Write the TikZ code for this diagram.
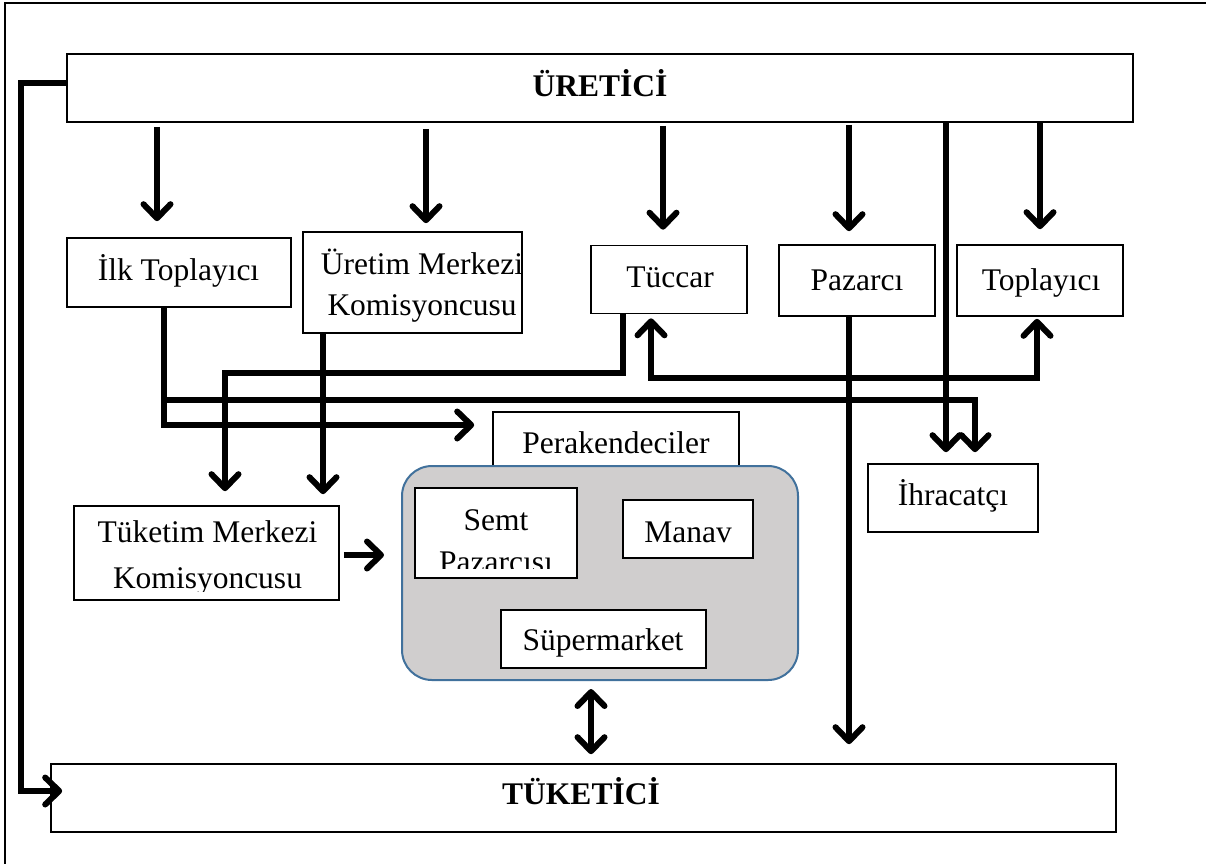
\documentclass[tikz,border=0pt]{standalone}
\usepackage{fontspec}
\setmainfont{Liberation Serif}
\usetikzlibrary{arrows.meta}
\definecolor{greyfill}{RGB}{208,206,206}
\definecolor{blueline}{RGB}{65,113,156}
\begin{document}
\begin{tikzpicture}[x=1pt,y=-1pt,
  box/.style={draw, line width=1.6pt, fill=white, inner sep=0pt},
  txt/.style={font=\fontsize{31.5}{36}\selectfont, inner sep=0pt, anchor=base},
  txtb/.style={font=\fontsize{31.5}{36}\selectfont\bfseries, inner sep=0pt, anchor=base},
  tipb/.tip={Straight Barb[length=14pt,width=27pt,round,line width=6pt]},
  arr/.style={line width=5.5pt, -tipb},
  darr/.style={line width=5.5pt, tipb-tipb}]
\useasboundingbox (0,0) rectangle (1206,863);
% outer frame
\draw[line width=1.6pt] (5,870) -- (5,3) -- (1212,3);

% boxes
\node[box, minimum width=1066pt, minimum height=68pt] (ure) at (600,88) {};
\node[txtb] (ureT) at (600,96) {ÜRETİCİ};
\node[box, minimum width=1065pt, minimum height=68pt] (tuk) at (583.5,798) {};
\node[txtb] (tukT) at (581,804) {TÜKETİCİ};

\node[box, minimum width=224pt, minimum height=69pt] (ilk) at (179,272.5) {};
\node[txt] (ilkT) at (178.5,280) {İlk Toplayıcı};

\node[box, minimum width=219pt, minimum height=101pt] (urm) at (412.5,282.5) {};
\node[txt] (urmT1) at (422,274) {Üretim Merkezi};
\node[txt] (urmT2) at (422,315) {Komisyoncusu};

\node[box, minimum width=156pt, minimum height=68pt] (tuc) at (669,279.5) {};
\node[txt] (tucT) at (670,287) {Tüccar};

\node[box, minimum width=156pt, minimum height=71pt] (paz) at (857,280.5) {};
\node[txt] (pazT) at (857,290) {Pazarcı};

\node[box, minimum width=166pt, minimum height=71pt] (top) at (1040,280.5) {};
\node[txt] (topT) at (1041,290) {Toplayıcı};

\node[box, minimum width=246pt, minimum height=60pt] (perak) at (616,442) {};
\node[txt] (perakT) at (616,453) {Perakendeciler};

\node[draw=blueline, fill=greyfill, line width=2pt, rounded corners=30pt,
      minimum width=396pt, minimum height=214pt, inner sep=0pt] (ret) at (600,573) {};

\node[box, minimum width=162pt, minimum height=90pt] (semt) at (496,533) {};
\begin{scope}
  \clip (415,488) rectangle (577,568);
  \node[txt] (semtT1) at (496,530) {Semt};
  \node[txt] (semtT2) at (496,572) {Pazarcısı};
\end{scope}

\node[box, minimum width=130pt, minimum height=58pt] (manav) at (688,529) {};
\node[txt] (manavT) at (688,542) {Manav};

\node[box, minimum width=205pt, minimum height=58pt] (super) at (603.5,639) {};
\node[txt] (superT) at (603,650) {Süpermarket};

\node[box, minimum width=170pt, minimum height=68pt] (ihr) at (953,498) {};
\node[txt] (ihrT) at (953,505) {İhracatçı};

\node[box, minimum width=265pt, minimum height=94pt] (tmk) at (206.5,553) {};
\begin{scope}
  \clip (75,507) rectangle (338,591);
  \node[txt] (tmkT1) at (207.5,542) {Tüketim Merkezi};
  \node[txt] (tmkT2) at (207.5,588) {Komisyoncusu};
\end{scope}

% helper coordinates
\coordinate (xa) at (157,0);
\coordinate (xb) at (426,0);
\coordinate (xc) at (663,0);
\coordinate (xd) at (849,0);
\coordinate (xe) at (1040,0);
\coordinate (xf) at (946,0);
\coordinate (xI) at (164,0);
\coordinate (xJ) at (975,0);
\coordinate (xK) at (623,0);
\coordinate (xL) at (225,0);
\coordinate (xM) at (323,0);
\coordinate (xN) at (651,0);
\coordinate (xO) at (1037,0);
\coordinate (xP) at (591,0);
\coordinate (xQ) at (21,0);
\coordinate (yA) at (0,425);
\coordinate (yB) at (0,400);
\coordinate (yC) at (0,373);
\coordinate (yD) at (0,378);
\coordinate (yE) at (0,555);
\coordinate (yF) at (0,83);
\coordinate (yG) at (0,791);

% connectors from producer
\draw[arr, shorten <=4pt, shorten >=16pt] (ure.south -| xa) -- (ilk.north -| xa);
\draw[arr, shorten <=6pt, shorten >=8pt] (ure.south -| xb) -- (urm.north -| xb);
\draw[arr, shorten <=3pt, shorten >=15pt] (ure.south -| xc) -- (tuc.north -| xc);
\draw[arr, shorten <=2pt, shorten >=13pt] (ure.south -| xd) -- (paz.north -| xd);
\draw[arr, shorten >=15pt] (ure.south -| xe) -- (top.north -| xe);
\draw[arr, shorten >=11pt] (ure.south -| xf) -- (ihr.north -| xf);

% ilk toplayici
\draw[arr, shorten >=18pt] (ilk.south -| xI) |- (perak.west |- yA);
\draw[arr, shorten >=11pt] (ilk.south -| xI) -- (xI |- yB) -| (ihr.north -| xJ);

% tuccar -> tuketim merkezi
\draw[arr, shorten >=14pt] (tuc.south -| xK) -- (xK |- yC) -| (tmk.north -| xL);
% uretim merkezi -> tuketim merkezi
\draw[arr, shorten >=11pt] (urm.south -| xM) -- (tmk.north -| xM);
% tuccar <-> toplayici
\draw[darr, shorten <=4pt, shorten >=2pt] (tuc.south -| xN) -- (xN |- yD) -| (top.south -| xO);
% pazarci -> tuketici
\draw[arr, shorten >=19pt] (paz.south -| xd) -- (tuk.north -| xd);
% tuketim merkezi -> perakendeciler
\draw[arr, shorten <=4pt, shorten >=17pt] (tmk.east |- yE) -- (ret.west |- yE);
% perakendeciler <-> tuketici
\draw[darr, shorten <=8pt, shorten >=9pt] (ret.south -| xP) -- (tuk.north -| xP);
% uretici -> tuketici
\draw[arr, shorten >=-12pt] (ure.west |- yF) -- (xQ |- yF) -- (xQ |- yG) -- (tuk.west |- yG);
\end{tikzpicture}
\end{document}
